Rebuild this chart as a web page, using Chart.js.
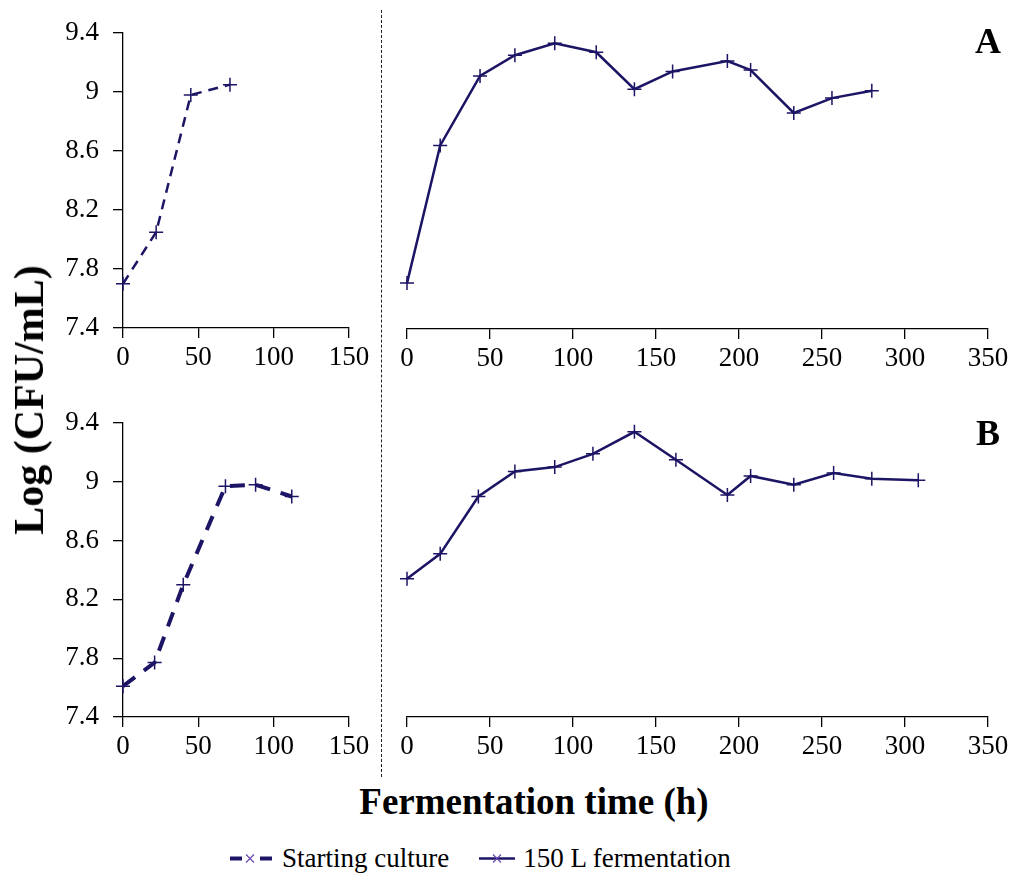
<!DOCTYPE html>
<html>
<head>
<meta charset="utf-8">
<script src="https://cdn.jsdelivr.net/npm/chart.js@4.4.1/dist/chart.umd.min.js"></script>
<style>
  body { margin: 0; background: #fff; }
  #wrap { position: relative; width: 1017px; height: 880px; }
  canvas { position: absolute; }
  .txt { position: absolute; color: #000; white-space: nowrap; }
</style>
</head>
<body>
<div id="wrap">
  <canvas id="startA" style="left:0;top:0" width="375" height="375"></canvas>
  <canvas id="fermA" style="left:395px;top:0" width="620" height="375"></canvas>
  <canvas id="startB" style="left:0;top:390px" width="375" height="375"></canvas>
  <canvas id="fermB" style="left:395px;top:390px" width="620" height="375"></canvas>

  <div style="position:absolute;left:381px;top:10px;height:767px;border-left:1px dashed #222;"></div>

  <div class="txt" style="font-family:'Times New Roman';left:988px;top:41px;transform:translate(-50%,-50%);font-weight:bold;font-size:36px;">A</div>
  <div class="txt" style="font-family:'Times New Roman';left:988px;top:433px;transform:translate(-50%,-50%);font-weight:bold;font-size:36px;">B</div>

  <div class="txt" style="font-family:'Times New Roman';left:29px;top:400px;transform:translate(-50%,-50%) rotate(-90deg);font-weight:bold;font-size:42px;">Log (CFU/mL)</div>
  <div class="txt" style="font-family:'Times New Roman';left:534px;top:801px;transform:translate(-50%,-50%);font-weight:bold;font-size:37px;">Fermentation time (h)</div>

  <div class="txt" style="font-family:'Times New Roman';left:228px;top:858px;transform:translateY(-50%);font-size:27px;display:flex;align-items:center;">
    <svg width="48" height="14" style="margin-right:6px">
      <line x1="2" y1="7" x2="14" y2="7" stroke="#1c1464" stroke-width="4"/>
      <line x1="32" y1="7" x2="44" y2="7" stroke="#1c1464" stroke-width="4"/>
      <line x1="18" y1="3" x2="26" y2="11" stroke="#6a4bb0" stroke-width="1.3"/>
      <line x1="26" y1="3" x2="18" y2="11" stroke="#6a4bb0" stroke-width="1.3"/>
    </svg>
    <span>Starting culture</span>
    <svg width="40" height="14" style="margin-left:28px;margin-right:6px">
      <line x1="2" y1="7" x2="38" y2="7" stroke="#1c1464" stroke-width="2.5"/>
      <line x1="16" y1="3" x2="24" y2="11" stroke="#6a4bb0" stroke-width="1.3"/>
      <line x1="24" y1="3" x2="16" y2="11" stroke="#6a4bb0" stroke-width="1.3"/>
    </svg>
    <span>150 L fermentation</span>
  </div>
</div>

<script>
// panel A
const startA_h = [0, 22, 45, 71];
const startA_v = [7.70, 8.05, 8.98, 9.05];
const fermA_h = [0, 20, 44, 65, 89, 114, 137, 160, 193, 207, 233, 256, 280];
const fermA_v = [7.71, 8.64, 9.11, 9.25, 9.33, 9.27, 9.02, 9.14, 9.21, 9.15, 8.86, 8.96, 9.01];

// panel B
const startB_h = [0, 21, 40, 68, 88, 112];
const startB_v = [7.61, 7.77, 8.30, 8.97, 8.98, 8.90];
const fermB_h = [0, 20, 43, 65, 89, 112, 137, 162, 193, 207, 233, 257, 280, 308];
const fermB_v = [8.34, 8.51, 8.90, 9.07, 9.10, 9.19, 9.34, 9.15, 8.91, 9.04, 8.98, 9.06, 9.02, 9.01];

const yTicks = [7.4, 7.8, 8.2, 8.6, 9, 9.4];
const xTicksStart = [0, 50, 100, 150];
const xTicksFerm = [0, 50, 100, 150, 200, 250, 300, 350];

const lineColor = '#1c1464';
const tickFont = { family: '"Times New Roman"', size: 27 };

function drawPanel(id, hours, values, xTicks, opts) {
    const ctx = document.getElementById(id);
    const points = hours.map((h, i) => ({ x: h, y: values[i] }));

    return new Chart(ctx, {
        type: 'line',
        data: {
            datasets: [{
                data: points,
                borderColor: lineColor,
                borderWidth: opts.lineWidth,
                borderDash: opts.dash || [],
                pointStyle: 'cross',
                pointRadius: 7,
                pointBorderWidth: 1.5,
                pointBorderColor: lineColor,
                tension: 0,
                clip: false
            }]
        },
        options: {
            responsive: false,
            animation: false,
            events: [],
            layout: { padding: opts.padding },
            plugins: { legend: { display: false }, tooltip: { enabled: false } },
            scales: {
                x: {
                    type: 'linear',
                    min: xTicks[0],
                    max: xTicks[xTicks.length - 1],
                    afterBuildTicks: s => { s.ticks = xTicks.map(v => ({ value: v })); },
                    afterFit: s => { s.height = opts.xHeight; },
                    grid: { drawOnChartArea: false, drawTicks: true, tickLength: 10, color: '#000', lineWidth: 1.3 },
                    border: { display: true, color: '#000', width: 1.3 },
                    ticks: { color: '#000', font: tickFont, padding: 4, maxRotation: 0, autoSkip: false }
                },
                y: {
                    display: opts.showY,
                    min: yTicks[0],
                    max: yTicks[yTicks.length - 1],
                    afterBuildTicks: s => { s.ticks = yTicks.map(v => ({ value: v })); },
                    afterFit: s => { s.width = opts.yWidth; },
                    grid: { drawOnChartArea: false, drawTicks: true, tickLength: 10, color: '#000', lineWidth: 1.3 },
                    border: { display: true, color: '#000', width: 1.3 },
                    ticks: {
                        color: '#000', font: tickFont, padding: 14,
                        callback: v => String(+v.toFixed(1))
                    }
                }
            }
        }
    });
}

function drawAll() {
    drawPanel('startA', startA_h, startA_v, xTicksStart, {
        lineWidth: 2.5, dash: [10, 7], showY: true, yWidth: 123, xHeight: 47,
        padding: { top: 33, right: 26, left: 0, bottom: 0 }
    });
    drawPanel('fermA', fermA_h, fermA_v, xTicksFerm, {
        lineWidth: 2.5, showY: false, yWidth: 0, xHeight: 46,
        padding: { top: 33, right: 27, left: 12, bottom: 0 }
    });
    drawPanel('startB', startB_h, startB_v, xTicksStart, {
        lineWidth: 4, dash: [15, 11], showY: true, yWidth: 123, xHeight: 48,
        padding: { top: 33, right: 26, left: 0, bottom: 0 }
    });
    drawPanel('fermB', fermB_h, fermB_v, xTicksFerm, {
        lineWidth: 2.5, showY: false, yWidth: 0, xHeight: 48,
        padding: { top: 33, right: 27, left: 12, bottom: 0 }
    });
}

document.fonts.load('27px "Times New Roman"').then(drawAll, drawAll);
</script>
</body>
</html>
